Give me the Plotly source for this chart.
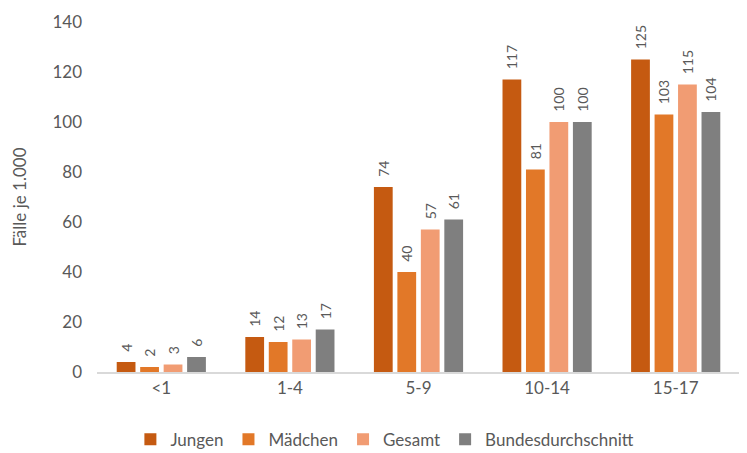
import plotly.graph_objects as go

# Altersgruppen und Werte (Fälle je 1.000)
groups = ["<1", "1-4", "5-9", "10-14", "15-17"]
jungen = [4, 14, 74, 117, 125]
maedchen = [2, 12, 40, 81, 103]
gesamt = [3, 13, 57, 100, 115]
bund = [6, 17, 61, 100, 104]

series = [
    ("Jungen", jungen, "#C55A11"),
    ("Mädchen", maedchen, "#E27828"),
    ("Gesamt", gesamt, "#F19C73"),
    ("Bundesdurchschnitt", bund, "#7F7F7F"),
]

INK = "#595959"
FONT = "Lato, Open Sans, Liberation Sans, sans-serif"
PAD = "\u00a0\u00a0"  # lifts the rotated labels a little off the bar tops

fig = go.Figure()
for name, vals, col in series:
    fig.add_trace(go.Bar(
        x=groups, y=vals, name=name,
        marker=dict(color=col, line=dict(width=0)),
        text=[PAD + str(v) for v in vals], textposition="outside", textangle=-90,
        textfont=dict(size=14, color=INK, family=FONT),
        cliponaxis=False,
    ))

# the page body has an 8px margin, so the figure is a little smaller than the window
fig.update_layout(
    barmode="group", bargap=0.27, bargroupgap=0.2,
    width=739, height=445,
    margin=dict(l=89, r=7, t=14, b=81, autoexpand=False),
    paper_bgcolor="white", plot_bgcolor="white",
    font=dict(family=FONT, size=17, color=INK),
    showlegend=True,
    legend=dict(orientation="h", xref="container", x=0.51, xanchor="center",
                yref="container", y=0.03, yanchor="middle",
                font=dict(size=17, color=INK), traceorder="normal"),
    uniformtext=dict(minsize=14, mode="show"),
)
fig.update_yaxes(
    range=[0, 140], dtick=20, showgrid=False, zeroline=False, showline=False,
    ticks="", ticklen=0, ticklabelstandoff=14,
    tickfont=dict(size=17, color=INK), automargin=False,
    title=dict(text="Fälle je 1.000", font=dict(size=17, color=INK), standoff=21),
)
fig.update_xaxes(
    showgrid=False, showline=True, linecolor="#D9D9D9", linewidth=1.5,
    ticks="", tickfont=dict(size=17, color=INK), automargin=False,
)

fig.write_html("out.html")
